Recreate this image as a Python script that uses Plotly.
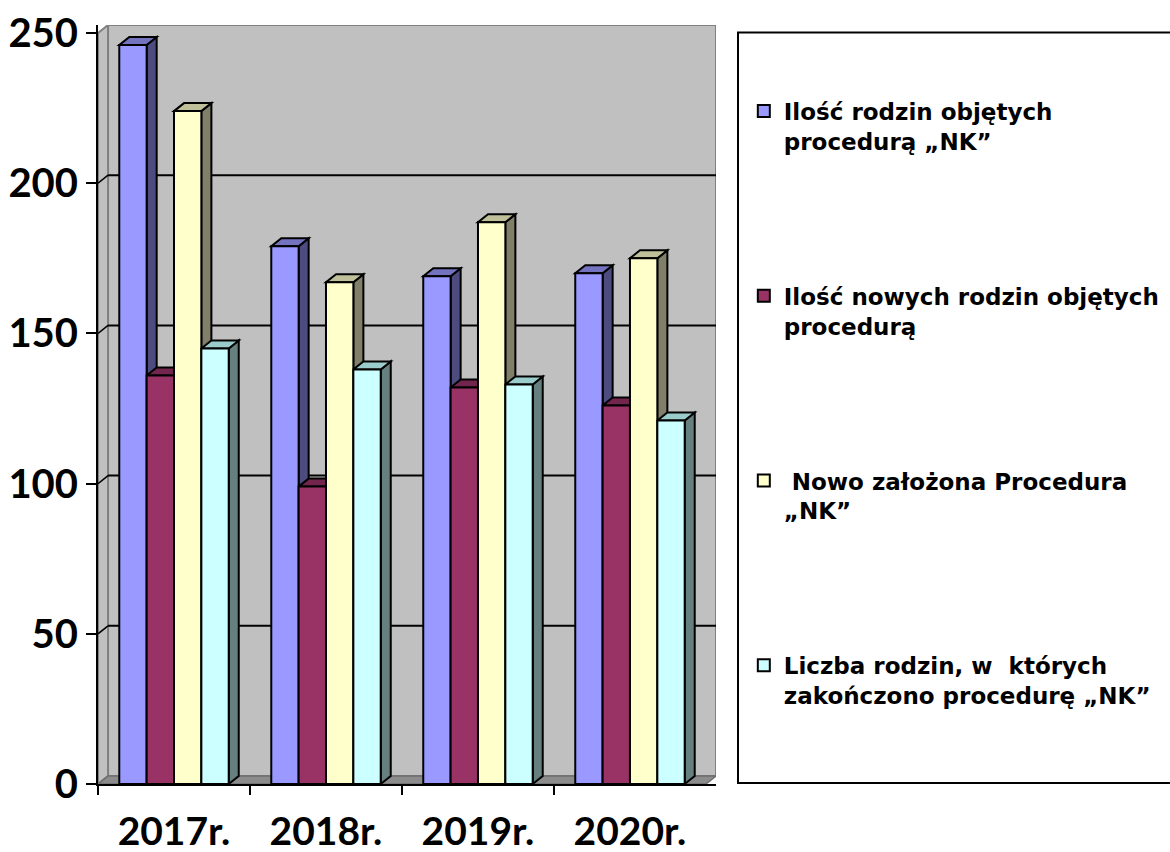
import plotly.graph_objects as go

categories = ["2017r.", "2018r.", "2019r.", "2020r."]
series_names = [
    "Ilość rodzin objętych<br>procedurą „NK”",
    "Ilość nowych rodzin objętych<br>procedurą",
    " Nowo założona Procedura<br>„NK”",
    "Liczba rodzin, w  których<br>zakończono procedurę „NK”",
]
s1 = [246, 179, 169, 170]
s2 = [136, 99, 132, 126]
s3 = [224, 167, 187, 175]
s4 = [145, 138, 133, 121]
series_values = [s1, s2, s3, s4]
y_ticks = [0, 50, 100, 150, 200, 250]

front_colors = ["#9999FF", "#993366", "#FFFFCC", "#CCFFFF"]
side_colors = ["#4C4C80", "#4D1A33", "#80806A", "#668080"]
top_colors = ["#7373C0", "#73264D", "#C0C09A", "#9ACCCC"]

n_series = len(series_values)
bargap = 0.28
bar_w = (1 - bargap) / n_series
dx = 0.066   # depth offset in category units
dy = 2.66    # depth offset in value units
ymax = 250

fig = go.Figure()
for i, (name, vals) in enumerate(zip(series_names, series_values)):
    fig.add_trace(go.Bar(
        x=categories, y=vals, name=name,
        marker=dict(color=front_colors[i], line=dict(color="black", width=2)),
        legendgroup=f"g{i}",
    ))
# empty helper trace so the boundary-tick axis is drawn
fig.add_trace(go.Scatter(x=[], y=[], xaxis="x2", yaxis="y",
                         showlegend=False, hoverinfo="skip"))

shapes = []
# back wall
shapes.append(dict(type="rect", xref="x", yref="y", layer="below",
                   x0=-0.5 + dx, x1=3.5 + dx, y0=dy, y1=ymax + dy,
                   fillcolor="#C0C0C0", line=dict(color="#808080", width=2)))
# left wall
shapes.append(dict(type="path", xref="x", yref="y", layer="below",
                   path=f"M -0.5,0 L -0.5,{ymax} L {-0.5+dx},{ymax+dy} L {-0.5+dx},{dy} Z",
                   fillcolor="#C0C0C0", line=dict(color="#808080", width=2)))
# floor
shapes.append(dict(type="path", xref="x", yref="y", layer="below",
                   path=f"M -0.5,0 L 3.5,0 L {3.5+dx},{dy} L {-0.5+dx},{dy} Z",
                   fillcolor="#8C8C8C", line=dict(color="#6E6E6E", width=1.5)))
# gridlines on wall
for v in y_ticks[1:-1]:
    shapes.append(dict(type="line", xref="x", yref="y", layer="below",
                       x0=-0.5 + dx, x1=3.5 + dx, y0=v + dy, y1=v + dy,
                       line=dict(color="black", width=2)))
    shapes.append(dict(type="line", xref="x", yref="y", layer="below",
                       x0=-0.5, x1=-0.5 + dx, y0=v, y1=v + dy,
                       line=dict(color="black", width=1.5)))
# 3D bar faces (side and top), computed from data
for i, vals in enumerate(series_values):
    for j, v in enumerate(vals):
        xl = j - (1 - bargap) / 2 + bar_w * i
        xr = xl + bar_w
        shapes.append(dict(type="path", xref="x", yref="y", layer="between",
                           path=f"M {xr},0 L {xr},{v} L {xr+dx},{v+dy} L {xr+dx},{dy} Z",
                           fillcolor=side_colors[i], line=dict(color="black", width=2)))
        shapes.append(dict(type="path", xref="x", yref="y", layer="between",
                           path=f"M {xl},{v} L {xr},{v} L {xr+dx},{v+dy} L {xl+dx},{v+dy} Z",
                           fillcolor=top_colors[i], line=dict(color="black", width=2)))
# legend frame
shapes.append(dict(type="rect", xref="paper", yref="paper", layer="above",
                   x0=1.0356, x1=1.75, y0=0.0013, y1=0.990,
                   line=dict(color="black", width=2), fillcolor="rgba(0,0,0,0)"))

boundary_ticks = [k - 0.5 for k in range(len(categories))]

fig.update_layout(
    width=1170, height=852,
    margin=dict(l=98, r=454, t=25, b=68, autoexpand=False),
    paper_bgcolor="white", plot_bgcolor="white",
    barmode="group", bargap=bargap, bargroupgap=0,
    shapes=shapes,
    showlegend=True,
    legend=dict(
        x=1.045, y=0.915, xanchor="left", yanchor="top",
        font=dict(family="DejaVu Sans", size=23, color="black", weight="bold"),
        tracegroupgap=122, valign="top", bgcolor="rgba(0,0,0,0)",
        traceorder="grouped", itemwidth=30,
    ),
    xaxis=dict(
        type="category", range=[-0.5, 3.5 + dx],
        showgrid=False, zeroline=False,
        showline=True, linecolor="black", linewidth=2,
        ticks="", ticklabelstandoff=12,
        tickfont=dict(family="Lato", size=39, color="black", weight="bold"),
    ),
    xaxis2=dict(
        type="linear", range=[-0.5, 3.5 + dx], overlaying="x", anchor="y", side="bottom",
        tickvals=boundary_ticks, showticklabels=False,
        showgrid=False, zeroline=False, showline=False,
        ticks="outside", ticklen=10, tickwidth=2, tickcolor="black",
    ),
    yaxis=dict(
        range=[0, ymax + dy], tickvals=y_ticks,
        showgrid=False, zeroline=False,
        showline=True, linecolor="black", linewidth=2,
        ticks="outside", ticklen=10, tickwidth=2, tickcolor="black",
        tickfont=dict(family="Lato", size=40, color="black", weight="bold"),
    ),
)

fig.write_html("out.html", post_script="document.body.style.margin='0';",
               config={"displayModeBar": False})
